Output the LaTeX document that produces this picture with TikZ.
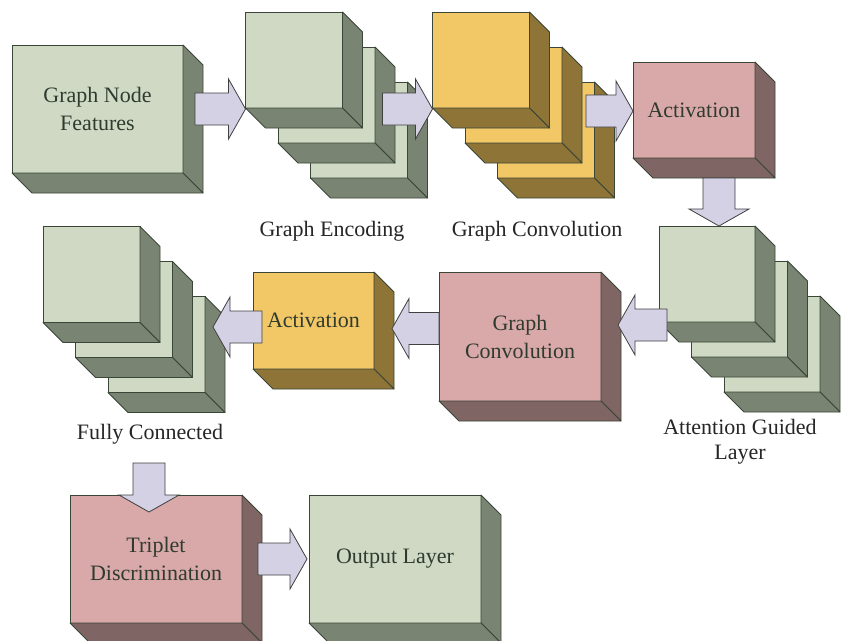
\documentclass[tikz,border=0pt]{standalone}
\usepackage{fontspec}
\setmainfont{Liberation Serif}
\usetikzlibrary{calc,positioning}

\definecolor{greenface}{HTML}{CFD9C4}
\definecolor{greenside}{HTML}{7A8473}
\definecolor{yellowface}{HTML}{F2C766}
\definecolor{yellowside}{HTML}{8E7437}
\definecolor{pinkface}{HTML}{D9A8A8}
\definecolor{pinkside}{HTML}{806565}
\definecolor{arrowfill}{HTML}{D5D1E4}
\definecolor{edgecol}{HTML}{3A4637}
\definecolor{textdark}{HTML}{2F3B2F}

\tikzset{
  face/.style={draw=edgecol, line width=0.8pt, inner sep=0pt, outer sep=0pt, align=center,
    text=textdark, font=\fontsize{22}{28}\selectfont},
  depth/.style={draw=edgecol, line width=0.8pt, line join=round},
  caption/.style={text=black!85, align=center, font=\fontsize{22}{25}\selectfont},
  fat/.style={draw=black!75, fill=arrowfill, line width=0.8pt}
}

% one layer: front face plus its right and bottom faces
\newcommand{\layerbox}[6]{%
  \node[face, fill=#5face, minimum width=#3pt, minimum height=#4pt] (#1) at (#2) {#6};
  \filldraw[depth, fill=#5side] (#1.north east) -- ++(20,20) -- ($(#1.south east)+(20,20)$) -- (#1.south east) -- cycle;
  \filldraw[depth, fill=#5side] (#1.south west) -- ++(20,20) -- ($(#1.south east)+(20,20)$) -- (#1.south east) -- cycle;
}

% block arrow, from #1 to its tip #2
\newcommand{\fatarrow}[2]{%
  \coordinate (fa-s) at (#1);
  \coordinate (fa-e) at (#2);
  \coordinate (fa-h) at ($(fa-e)!17pt!(fa-s)$);
  \filldraw[fat] ($(fa-s)!16pt!90:(fa-e)$) -- ($(fa-h)!16pt!90:(fa-e)$) -- ($(fa-h)!30pt!90:(fa-e)$)
    -- (fa-e) -- ($(fa-h)!30pt!-90:(fa-e)$) -- ($(fa-h)!16pt!-90:(fa-e)$) -- ($(fa-s)!16pt!-90:(fa-e)$) -- cycle;
}

\begin{document}
\begin{tikzpicture}[x=1pt, y=-1pt]
  \fill[white] (0,0) rectangle (848,640);
  \useasboundingbox (0,0) rectangle (848,640);

  % top row
  \layerbox{gnf}{97.5,109}{171}{128}{green}{Graph Node\\Features}
  \layerbox{enc3}{359,130}{97}{96}{green}{}
  \layerbox{enc2}{$(enc3)+(-32.5,-35)$}{97}{96}{green}{}
  \layerbox{enc1}{$(enc2)+(-32.5,-35)$}{97}{96}{green}{}
  \layerbox{conv3}{546,130}{97}{96}{yellow}{}
  \layerbox{conv2}{$(conv3)+(-32.5,-35)$}{97}{96}{yellow}{}
  \layerbox{conv1}{$(conv2)+(-32.5,-35)$}{97}{96}{yellow}{}
  \layerbox{act1}{694,110}{122}{96}{pink}{Activation}

  % middle row
  \layerbox{att3}{772,344}{96}{96}{green}{}
  \layerbox{att2}{$(att3)+(-32.5,-35)$}{96}{96}{green}{}
  \layerbox{att1}{$(att2)+(-32.5,-35)$}{96}{96}{green}{}
  \layerbox{gconv}{520,336.5}{162}{129}{pink}{Graph\\Convolution}
  \layerbox{act2}{313.5,320.5}{121}{97}{yellow}{Activation}
  \layerbox{fc3}{156.5,344.5}{97}{96}{green}{}
  \layerbox{fc2}{$(fc3)+(-32.5,-35)$}{97}{96}{green}{}
  \layerbox{fc1}{$(fc2)+(-32.5,-35)$}{97}{96}{green}{}

  % bottom row
  \layerbox{trip}{156,559}{172}{128}{pink}{Triplet\\Discrimination}
  \layerbox{outl}{395,559}{172}{128}{green}{Output Layer}

  % captions
  \node[caption] (enclab) at (332,231) {Graph Encoding};
  \node[caption] (convlab) at (537,231) {Graph Convolution};
  \node[caption] (fclab) at (150,434) {Fully Connected};
  \node[caption] (attlab) at (740,442) {Attention Guided\\Layer};

  % arrows
  \fatarrow{$(gnf.east)+(12,0)$}{enc1.west |- gnf.east}
  \fatarrow{$(conv1.west |- gnf.east)+(-50,0)$}{conv1.west |- gnf.east}
  \fatarrow{$(act1.west)+(-47,1)$}{$(act1.west)+(0,1)$}
  \fatarrow{$(att1.north)+(12,-48)$}{$(att1.north)+(12,0)$}
  \fatarrow{$(gconv.east)+(66,-11.5)$}{$(gconv.east)+(17,-11.5)$}
  \fatarrow{$(gconv.west)+(0,-8)$}{$(gconv.west)+(-47,-8)$}
  \fatarrow{$(act2.west)+(9,6.5)$}{$(act2.west)+(-40,6.5)$}
  \fatarrow{$(trip.north)+(-7,-32)$}{$(trip.north)+(-7,17)$}
  \fatarrow{$(trip.east)+(16,0)$}{$(outl.west)+(-2,0)$}
\end{tikzpicture}
\end{document}
